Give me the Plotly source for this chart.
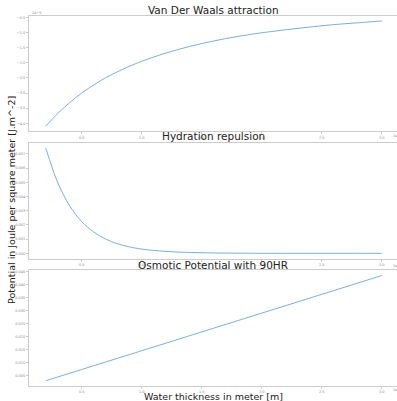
import plotly.graph_objects as go

# Water thickness (m)
thickness = [0.2e-9, 0.3e-9, 0.4e-9, 0.5e-9, 0.6e-9, 0.7e-9, 0.8e-9, 0.9e-9, 1.0e-9,
             1.2e-9, 1.4e-9, 1.6e-9, 1.8e-9, 2.0e-9, 2.2e-9, 2.4e-9, 2.6e-9, 2.8e-9, 3.0e-9]

# Van der Waals attraction (J/m^2)
vdw = [-4.09e-5, -3.67e-5, -3.31e-5, -2.995e-5, -2.73e-5, -2.49e-5, -2.29e-5, -2.11e-5, -1.95e-5,
       -1.68e-5, -1.46e-5, -1.28e-5, -1.13e-5, -1.01e-5, -0.91e-5, -0.82e-5, -0.74e-5, -0.68e-5, -0.62e-5]

# Hydration repulsion (J/m^2)
hydration = [0.00741, 0.00497, 0.00333, 0.00223, 0.00150, 0.00100, 0.00067, 0.00045, 0.00030,
             0.000136, 0.000061, 0.0000273, 0.0000123, 0.0000055, 0.0000025, 0.0000011, 0.0000005,
             0.00000023, 0.0000001]

# Osmotic potential with 90% RH (J/m^2)
osmotic = [0.0029, 0.00435, 0.0058, 0.00725, 0.0087, 0.01015, 0.0116, 0.01305, 0.0145,
           0.0174, 0.0203, 0.0232, 0.0261, 0.029, 0.0319, 0.0348, 0.0377, 0.0406, 0.0435]

x_ticks = [0.5e-9, 1.0e-9, 1.5e-9, 2.0e-9, 2.5e-9, 3.0e-9]
x_ticktext = ["0.5", "1.0", "1.5", "2.0", "2.5", "3.0"]
vdw_ticks = [-0.5e-5, -1.0e-5, -1.5e-5, -2.0e-5, -2.5e-5, -3.0e-5, -3.5e-5, -4.0e-5]
vdw_ticktext = ["\u22120.5", "\u22121.0", "\u22121.5", "\u22122.0", "\u22122.5", "\u22123.0", "\u22123.5", "\u22124.0"]
hyd_ticks = [0.0, 0.001, 0.002, 0.003, 0.004, 0.005, 0.006, 0.007]
hyd_ticktext = ["0.000", "0.001", "0.002", "0.003", "0.004", "0.005", "0.006", "0.007"]
osm_ticks = [0.005, 0.010, 0.015, 0.020, 0.025, 0.030, 0.035, 0.040, 0.045]
osm_ticktext = ["0.005", "0.010", "0.015", "0.020", "0.025", "0.030", "0.035", "0.040", "0.045"]

titles = ["Van Der Waals attraction", "Hydration repulsion", "Osmotic Potential with 90HR"]

LINE = "#5a9bd0"
SPINE = "#cccccc"
TICKC = "#888888"
FONT = "DejaVu Sans"
H = 401

fig = go.Figure()
fig.add_trace(go.Scatter(x=thickness, y=vdw, mode="lines", line=dict(color=LINE, width=0.8, shape="spline"),
                         xaxis="x", yaxis="y", showlegend=False))
fig.add_trace(go.Scatter(x=thickness, y=hydration, mode="lines", line=dict(color=LINE, width=0.8, shape="spline"),
                         xaxis="x2", yaxis="y2", showlegend=False))
fig.add_trace(go.Scatter(x=thickness, y=osmotic, mode="lines", line=dict(color=LINE, width=0.8, shape="spline"),
                         xaxis="x3", yaxis="y3", showlegend=False))

def pdom(top_px, bot_px):
    return [1 - bot_px / H, 1 - top_px / H]

xcommon = dict(range=[0.06e-9, 3.127e-9], tickvals=x_ticks, ticktext=x_ticktext, showgrid=False,
               zeroline=False, showline=True, linecolor=SPINE, linewidth=1, mirror=True,
               ticks="outside", ticklen=2, tickcolor=SPINE, tickfont=dict(size=3.5, color=TICKC, family=FONT),
               domain=[0, 1])
ycommon = dict(showgrid=False, zeroline=False, showline=True, linecolor=SPINE, linewidth=1, mirror=True,
               ticks="outside", ticklen=2, tickcolor=SPINE, tickfont=dict(size=3.5, color=TICKC, family=FONT))

fig.update_layout(
    width=397, height=401,
    margin=dict(l=29, r=0, t=0, b=0),
    plot_bgcolor="white", paper_bgcolor="white",
    font=dict(family=FONT),
    xaxis=dict(xcommon, anchor="y"),
    xaxis2=dict(xcommon, anchor="y2"),
    xaxis3=dict(xcommon, anchor="y3"),
    yaxis=dict(ycommon, domain=pdom(15.8, 131.3), range=[-4.26e-5, -0.45e-5],
               tickvals=vdw_ticks, ticktext=vdw_ticktext, anchor="x"),
    yaxis2=dict(ycommon, domain=pdom(143, 258.6), range=[-0.00037, 0.00777],
                tickvals=hyd_ticks, ticktext=hyd_ticktext, anchor="x2"),
    yaxis3=dict(ycommon, domain=pdom(270.3, 386), range=[0.00087, 0.04553],
                tickvals=osm_ticks, ticktext=osm_ticktext, anchor="x3"),
)

annots = []
for t, ypx in zip(titles, [10.5, 136.5, 265]):
    annots.append(dict(text=t, x=0.5, xref="paper", y=1 - ypx / H, yref="paper", showarrow=False,
                       xanchor="center", yanchor="middle", font=dict(size=10.5, color="#222", family=FONT)))
for ypx in [136, 266, 390]:
    annots.append(dict(text="1e\u22129", x=(391 - 29) / 368, xref="paper", y=1 - ypx / H, yref="paper",
                       showarrow=False, xanchor="left", yanchor="middle",
                       font=dict(size=3.5, color=TICKC, family=FONT)))
annots.append(dict(text="1e\u22125", x=(30 - 29) / 368, xref="paper", y=1 - 13 / H, yref="paper",
                   showarrow=False, xanchor="left", yanchor="middle", font=dict(size=3.5, color=TICKC, family=FONT)))
annots.append(dict(text="Water thickness in meter [m]", x=0.5, xref="paper", y=1 - 396 / H, yref="paper",
                   showarrow=False, xanchor="center", yanchor="middle", font=dict(size=9.5, color="#222", family=FONT)))
annots.append(dict(text="Potential in Joule per square meter [J.m^-2]", x=(11 - 29) / 368, xref="paper",
                   y=1 - 200 / H, yref="paper", showarrow=False, textangle=-90,
                   xanchor="center", yanchor="middle", font=dict(size=9.5, color="#222", family=FONT)))
fig.update_layout(annotations=annots)

fig.write_html("out.html", config={"displayModeBar": False},
               post_script="document.body.style.margin='0';document.body.style.overflow='hidden';")
